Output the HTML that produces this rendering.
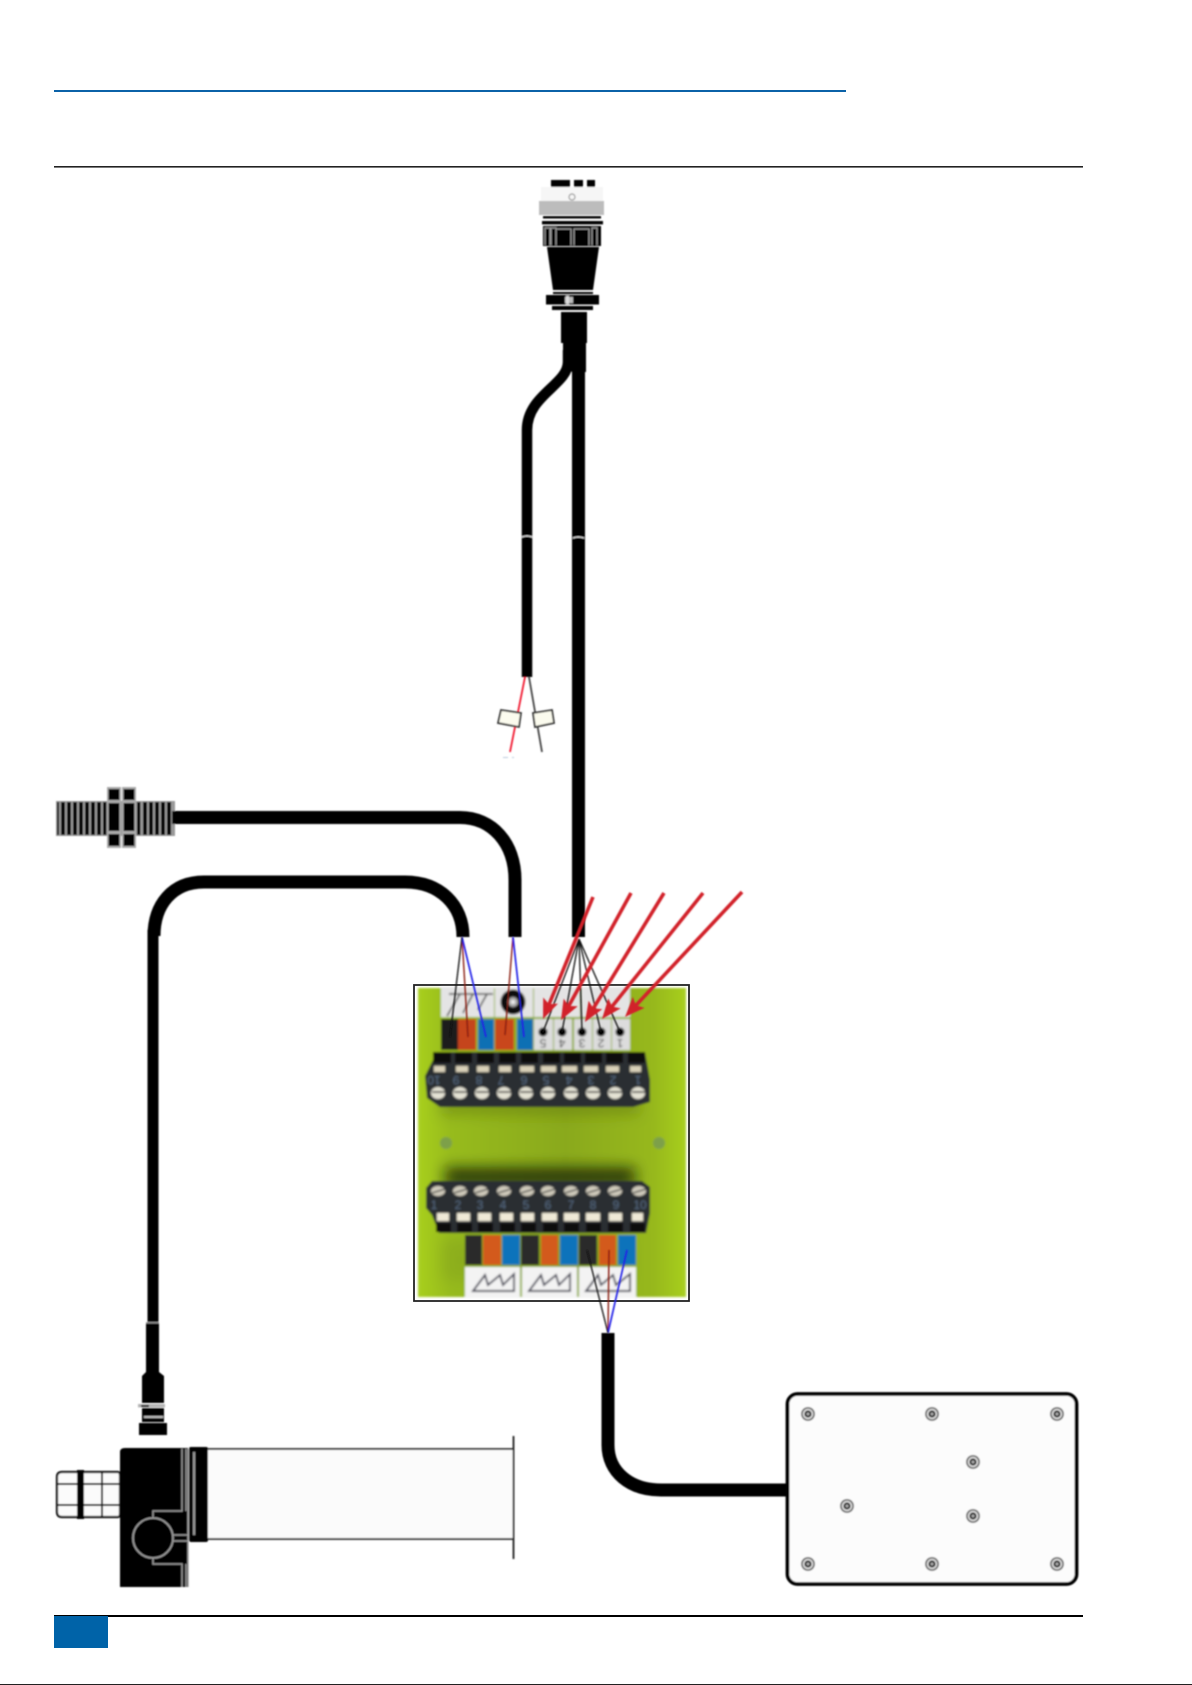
<!DOCTYPE html>
<html><head><meta charset="utf-8"><style>
html,body{margin:0;padding:0;background:#fff;width:1192px;height:1685px;overflow:hidden}
svg{display:block}
</style></head><body>
<svg xmlns="http://www.w3.org/2000/svg" width="1192" height="1685" viewBox="0 0 1192 1685">
<defs>
<filter id="b1" x="-5%" y="-5%" width="110%" height="110%"><feGaussianBlur stdDeviation="0.7"/></filter>
<filter id="b2" x="-5%" y="-5%" width="110%" height="110%"><feGaussianBlur stdDeviation="1.1"/></filter>
<filter id="b8" x="-30%" y="-100%" width="160%" height="300%"><feGaussianBlur stdDeviation="7"/></filter>
<linearGradient id="gr" x1="0" x2="1" y1="0" y2="0"><stop offset="0" stop-color="#a8cf20"/><stop offset=".12" stop-color="#97bb1c"/><stop offset=".55" stop-color="#8aa91b"/><stop offset=".88" stop-color="#97b81c"/><stop offset="1" stop-color="#a8cf20"/></linearGradient>
<marker id="ah" markerUnits="userSpaceOnUse" markerWidth="22" markerHeight="18" refX="14" refY="8" orient="auto"><path d="M0 0L20 8L0 16L4 8Z" fill="#d2232a"/></marker>
<g id="sc"><circle r="7" fill="#777"/><circle r="5.2" fill="#ddd"/><circle r="3.6" fill="#333"/><circle r="1.500" fill="#aaa"/></g>
</defs>

<rect x="54" y="90" width="792" height="2" fill="#0b62a8"/>
<rect x="54" y="166" width="1029" height="1.6" fill="#222"/>
<rect x="54" y="1615" width="1029" height="2" fill="#000"/>
<rect x="54" y="1616" width="54" height="32" fill="#0063a8"/>
<rect x="0" y="1684" width="1192" height="1" fill="#222"/>

<g filter="url(#b1)">
<!-- top connector -->
<g fill="#000">
<rect x="551" y="180" width="19" height="7"/><rect x="574" y="180" width="9" height="7"/><rect x="587" y="180" width="8" height="7"/>
</g>
<rect x="541" y="187" width="62" height="15" fill="#f6f6f6"/>
<rect x="539" y="201" width="65" height="14" fill="#bcbcbc"/>
<circle cx="572" cy="197" r="3" fill="none" stroke="#aaa" stroke-width="1.4"/>
<rect x="543" y="216" width="58" height="2.5" fill="#000"/>
<rect x="542" y="221" width="61" height="3.4" fill="#000"/>
<rect x="543" y="226" width="58" height="20" fill="#000"/>
<path d="M545 245V228h5v17M551 245V228h5v17M556 245V229h15v16M574 245V229h15v16M592 245V228h5v17" fill="none" stroke="#999" stroke-width="1.300"/>
<path d="M547 247H599L593 290H553Z" fill="#000"/>
<rect x="553" y="292" width="40" height="2" fill="#000"/>
<rect x="546" y="295" width="53" height="9.500" fill="#000"/>
<rect x="565" y="297" width="8" height="6" fill="#bbb"/><rect x="566" y="296" width="3" height="8" fill="#ddd"/>
<rect x="552" y="306" width="41" height="4" fill="#000"/>
<rect x="561" y="312" width="26" height="31" fill="#000"/>
<path d="M563 343H586V372L572 372L563 362Z" fill="#000"/>
<!-- top cable branches -->
<path d="M578.500 350V937" stroke="#000" stroke-width="13" fill="none"/>
<path d="M568 350V362C568 385 527 395 527 430V677" stroke="#000" stroke-width="10.500" fill="none"/>
<path d="M522 537q5 -2 10 0" fill="none" stroke="#fff" stroke-width="1"/>
<path d="M573 538q5 -2 11 0" fill="none" stroke="#fff" stroke-width="1"/>
<!-- pigtails -->
<path d="M525 677L510 752" stroke="#f0192f" stroke-width="1.800"/>
<path d="M529 677L542 752" stroke="#444" stroke-width="1.800"/>
<path d="M501 710L521 713L519 727L498 723Z M533 713L552 710L554 723L535 727Z" fill="#fbfbee" stroke="#333" stroke-width="1.800"/>
<rect x="503" y="757" width="5" height="1" fill="#bcd"/><rect x="512" y="757" width="2" height="1" fill="#bcd"/>
<!-- sensor -->
<rect x="56" y="801" width="119" height="35" fill="#999"/>
<g fill="#000">
<rect x="57" y="802" width="2" height="33"/><rect x="61" y="802" width="4" height="33"/><rect x="67" y="802" width="4" height="33"/><rect x="73" y="802" width="4" height="33"/><rect x="79" y="802" width="4" height="33"/><rect x="85" y="802" width="4" height="33"/><rect x="91" y="802" width="4" height="33"/><rect x="97" y="802" width="4" height="33"/><rect x="103" y="802" width="3.500" height="33"/>
<rect x="137" y="802" width="3.500" height="33"/><rect x="143" y="802" width="4" height="33"/><rect x="149" y="802" width="4" height="33"/><rect x="155" y="802" width="4" height="33"/><rect x="161" y="802" width="4" height="33"/><rect x="167" y="802" width="4" height="33"/>
</g>
<rect x="107" y="787" width="14" height="61" fill="#aaa"/><rect x="122" y="787" width="14" height="61" fill="#aaa"/>
<g fill="#000"><rect x="108.500" y="789" width="11" height="11"/><rect x="108.500" y="803" width="11" height="28"/><rect x="108.500" y="834" width="11" height="12"/><rect x="123.500" y="789" width="11" height="11"/><rect x="123.500" y="803" width="11" height="28"/><rect x="123.500" y="834" width="11" height="12"/></g>
<path d="M172 817.500H460C492 817.500 515 843 515 880V937" stroke="#000" stroke-width="13" fill="none"/>
<!-- long cable to actuator -->
<path d="M463 937C463 905 440 882 405 882H204C172 882 154 905 154 936" stroke="#000" stroke-width="13" fill="none"/>
<path d="M153 930V1325" stroke="#000" stroke-width="11" fill="none"/>
<!-- small connector -->
<path d="M146 1323H159V1372L164 1376V1403H142V1376L146 1372Z" fill="#000"/>
<rect x="146" y="1322" width="13" height="1.400" fill="#999"/>
<rect x="138" y="1404" width="27" height="3.400" fill="#b5b5b5"/><rect x="141" y="1405" width="8" height="2" fill="#000"/>
<rect x="142" y="1408" width="22" height="14" fill="#000"/>
<rect x="144" y="1416" width="19" height="2" fill="#bbb"/>
<rect x="139" y="1423" width="28" height="12" fill="#000"/>
<!-- actuator -->
<path d="M120 1452Q120 1448 125 1448H188V1587H120Z" fill="#000"/>
<rect x="189" y="1447" width="19" height="95" fill="#000" rx="2"/>
<rect x="193" y="1452" width="2.200" height="83" fill="#999"/>
<path d="M182 1449V1511H153V1519M186 1449V1511M188 1449V1587M182 1587V1564H153V1557M186 1587V1564" fill="none" stroke="#999" stroke-width="1.500"/>
<circle cx="153" cy="1538" r="20" fill="#000" stroke="#999" stroke-width="1.800"/>
<path d="M173 1535H188M173 1541H188" stroke="#999" stroke-width="1.500"/>
<rect x="208" y="1449" width="305" height="90" fill="#fbfbfb"/>
<path d="M208 1449H513M208 1539H513" stroke="#222" stroke-width="1.800"/>
<path d="M513.500 1436V1559" stroke="#222" stroke-width="1.800"/>
<!-- nut -->
<path d="M62 1472H118Q120 1472 120 1476V1513Q120 1517 118 1517H62Q57 1517 57 1512V1477Q57 1472 62 1472Z" fill="#fbfbfb" stroke="#111" stroke-width="2.200"/>
<path d="M58 1484H120M58 1505H120M102 1472V1517" stroke="#111" stroke-width="2"/>
<rect x="77" y="1470" width="7" height="49" fill="#000"/>
<!-- lower cable and box -->
<path d="M608 1333V1445C608 1472 630 1490 661 1490H790" stroke="#000" stroke-width="13" fill="none"/>
<rect x="787.500" y="1394" width="289" height="190" rx="10" fill="#fcfcfc" stroke="#000" stroke-width="3.800"/>
<use href="#sc" x="808" y="1414"/><use href="#sc" x="932" y="1414"/><use href="#sc" x="1057" y="1414"/>
<use href="#sc" x="973" y="1462"/><use href="#sc" x="847" y="1506"/><use href="#sc" x="973" y="1516"/>
<use href="#sc" x="808" y="1564"/><use href="#sc" x="932" y="1564"/><use href="#sc" x="1057" y="1564"/>
</g>

<!-- board -->
<rect x="414" y="985" width="275" height="316" fill="#fff" stroke="#222" stroke-width="1.800"/>
<g filter="url(#b2)">
<rect x="418" y="988" width="268" height="309" fill="url(#gr)"/>
<rect x="445" y="1168" width="190" height="18" fill="#0e1402" opacity=".8" filter="url(#b8)"/>
<rect x="440" y="1100" width="200" height="14" fill="#4d5e0e" opacity=".4" filter="url(#b8)"/>
<rect x="440" y="1240" width="190" height="40" fill="#4d5e0e" opacity=".12" filter="url(#b8)"/>
<circle cx="446" cy="1143" r="6" fill="#7da04a"/><circle cx="659" cy="1143" r="6" fill="#7da04a"/>

<!-- top panels -->
<rect x="441" y="987" width="53" height="30" fill="#e4e4e4"/>
<rect x="495" y="987" width="38" height="30" fill="#e4e4e4"/>
<rect x="534" y="987" width="46" height="30" fill="#e4e4e4"/>
<rect x="581" y="987" width="49" height="30" fill="#e4e4e4"/>
<path d="M449 994H493M447 1016L460 994M463 1013L473 994M478 1010L487 994" stroke="#444" stroke-width="1.600" fill="none"/>
<circle cx="513" cy="1002" r="12.500" fill="#111"/><circle cx="513" cy="1002" r="5" fill="#aaa"/><circle cx="513" cy="1002" r="2" fill="#eee"/>
<!-- top colours -->
<rect x="441" y="1019" width="17" height="31" fill="#1d1d1d"/>
<rect x="458" y="1019" width="18" height="31" fill="#c5441b"/>
<rect x="478" y="1019" width="16" height="31" fill="#0c6fb4"/>
<rect x="495" y="1019" width="19" height="31" fill="#c9471a"/>
<rect x="517" y="1019" width="16" height="31" fill="#0c6fb4"/>
<rect x="534" y="1019" width="19" height="31" fill="#dcdcdc"/>
<rect x="554" y="1019" width="18" height="31" fill="#dcdcdc"/>
<rect x="574" y="1019" width="18" height="31" fill="#dcdcdc"/>
<rect x="593" y="1019" width="18" height="31" fill="#dcdcdc"/>
<rect x="612" y="1019" width="18" height="31" fill="#dcdcdc"/>
<g fill="#000"><circle cx="543" cy="1032" r="4.500"/><circle cx="562" cy="1032" r="4.500"/><circle cx="582" cy="1032" r="4.500"/><circle cx="601" cy="1032" r="4.500"/><circle cx="620" cy="1032" r="4.500"/></g>
<g font-family="'Liberation Sans',sans-serif" font-size="12" fill="#333" text-anchor="middle">
<text transform="translate(543,1039) rotate(180)">5</text><text transform="translate(562,1039) rotate(180)">4</text><text transform="translate(582,1039) rotate(180)">3</text><text transform="translate(601,1039) rotate(180)">2</text><text transform="translate(620,1039) rotate(180)">1</text>
</g>

<!-- top block -->
<path d="M437 1052H645L650 1080V1102L633 1107H440L427 1098L425 1076Z" fill="#2a2d31"/>
<g fill="#0c0c0c"><rect x="433" y="1052" width="18" height="11"/><rect x="455" y="1052" width="17" height="11"/><rect x="477" y="1052" width="17" height="11"/><rect x="499" y="1052" width="17" height="11"/><rect x="521" y="1052" width="17" height="11"/><rect x="543" y="1052" width="17" height="11"/><rect x="564" y="1052" width="17" height="11"/><rect x="585" y="1052" width="17" height="11"/><rect x="606" y="1052" width="17" height="11"/><rect x="628" y="1052" width="17" height="11"/></g>
<g fill="#d8d0b8"><rect x="434" y="1066" width="11" height="6"/><rect x="456" y="1066" width="12" height="6"/><rect x="477" y="1066" width="12" height="6"/><rect x="499" y="1066" width="12" height="6"/><rect x="520" y="1066" width="14" height="6"/><rect x="541" y="1066" width="15" height="6"/><rect x="562" y="1066" width="15" height="6"/><rect x="584" y="1066" width="14" height="6"/><rect x="606" y="1066" width="13" height="6"/><rect x="630" y="1066" width="11" height="6"/></g>
<g font-family="'Liberation Sans',sans-serif" font-size="12" fill="#566a82" text-anchor="middle">
<text transform="translate(434,1076) rotate(180)">10</text><text transform="translate(456,1076) rotate(180)">9</text><text transform="translate(479,1076) rotate(180)">8</text><text transform="translate(501,1076) rotate(180)">7</text><text transform="translate(524,1076) rotate(180)">6</text><text transform="translate(546,1076) rotate(180)">5</text><text transform="translate(569,1076) rotate(180)">4</text><text transform="translate(591,1076) rotate(180)">3</text><text transform="translate(613,1076) rotate(180)">2</text><text transform="translate(638,1076) rotate(180)">1</text>
</g>
<g fill="#e4e2d4"><ellipse cx="438" cy="1093" rx="7" ry="6"/><ellipse cx="460" cy="1093" rx="7" ry="6"/><ellipse cx="482" cy="1093" rx="7" ry="6"/><ellipse cx="504" cy="1093" rx="7" ry="6"/><ellipse cx="526" cy="1093" rx="7" ry="6"/><ellipse cx="548" cy="1093" rx="7" ry="6"/><ellipse cx="571" cy="1093" rx="7" ry="6"/><ellipse cx="593" cy="1093" rx="7" ry="6"/><ellipse cx="615" cy="1093" rx="7" ry="6"/><ellipse cx="638" cy="1093" rx="7" ry="6"/></g>
<path d="M432 1092H445M454 1092H467M476 1092H489M498 1092H511M520 1092H533M542 1092H555M565 1092H578M587 1092H600M609 1092H622M632 1092H645" stroke="#333" stroke-width="1.400"/>

<!-- bottom block -->
<path d="M432 1181H642L650 1187V1213L646 1233H439L432 1215L426 1208V1188Z" fill="#2a2d31"/>
<g fill="#cfcabb"><ellipse cx="438" cy="1191" rx="7" ry="5"/><ellipse cx="460" cy="1191" rx="7" ry="5"/><ellipse cx="481" cy="1191" rx="7" ry="5"/><ellipse cx="504" cy="1191" rx="7" ry="5"/><ellipse cx="527" cy="1191" rx="7" ry="5"/><ellipse cx="548" cy="1191" rx="7" ry="5"/><ellipse cx="571" cy="1191" rx="7" ry="5"/><ellipse cx="593" cy="1191" rx="7" ry="5"/><ellipse cx="615" cy="1191" rx="7" ry="5"/><ellipse cx="639" cy="1191" rx="7" ry="5"/></g>
<path d="M432 1193L445 1189M454 1193L467 1189M475 1193L488 1189M498 1193L511 1189M521 1193L534 1189M542 1193L555 1189M565 1193L578 1189M587 1193L600 1189M609 1193L622 1189M633 1193L646 1189" stroke="#333" stroke-width="1.300"/>
<g font-family="'Liberation Sans',sans-serif" font-size="12" fill="#566a82" text-anchor="middle">
<text x="434" y="1209">1</text><text x="458" y="1209">2</text><text x="480" y="1209">3</text><text x="503" y="1209">4</text><text x="526" y="1209">5</text><text x="548" y="1209">6</text><text x="571" y="1209">7</text><text x="593" y="1209">8</text><text x="616" y="1209">9</text><text x="640" y="1209">10</text>
</g>
<g fill="#efe9d6"><rect x="437" y="1213" width="12" height="8"/><rect x="457" y="1213" width="13" height="8"/><rect x="478" y="1213" width="13" height="8"/><rect x="500" y="1213" width="13" height="8"/><rect x="521" y="1213" width="13" height="8"/><rect x="542" y="1213" width="15" height="8"/><rect x="564" y="1213" width="15" height="8"/><rect x="586" y="1213" width="14" height="8"/><rect x="609" y="1213" width="13" height="8"/><rect x="632" y="1213" width="11" height="8"/></g>
<g fill="#0c0c0c"><rect x="436" y="1223" width="15" height="9"/><rect x="457" y="1223" width="15" height="9"/><rect x="478" y="1223" width="15" height="9"/><rect x="500" y="1223" width="15" height="9"/><rect x="521" y="1223" width="15" height="9"/><rect x="543" y="1223" width="15" height="9"/><rect x="564" y="1223" width="15" height="9"/><rect x="586" y="1223" width="15" height="9"/><rect x="608" y="1223" width="15" height="9"/><rect x="630" y="1223" width="15" height="9"/></g>

<!-- bottom colours -->
<rect x="465" y="1235" width="17" height="30" fill="#2b2b2b"/><rect x="483" y="1235" width="18" height="30" fill="#d35a1c"/><rect x="502" y="1235" width="18" height="30" fill="#0e73bb"/>
<rect x="521" y="1235" width="18" height="30" fill="#2b2b2b"/><rect x="541" y="1235" width="17" height="30" fill="#d35a1c"/><rect x="560" y="1235" width="18" height="30" fill="#0e73bb"/>
<rect x="579" y="1235" width="18" height="30" fill="#2b2b2b"/><rect x="599" y="1235" width="17" height="30" fill="#d35a1c"/><rect x="618" y="1235" width="18" height="30" fill="#0e73bb"/>
<rect x="465" y="1267" width="55" height="31" fill="#f3f3f3"/><rect x="522" y="1267" width="55" height="31" fill="#f3f3f3"/><rect x="579" y="1267" width="57" height="31" fill="#f3f3f3"/>
<path d="M473 1291L485 1275L488 1285L500 1275L503 1285L514 1274V1291Z M529 1291L541 1275L544 1285L556 1275L559 1285L570 1274V1291Z M586 1291L598 1275L601 1285L613 1275L616 1285L630 1274V1291Z" fill="none" stroke="#445" stroke-width="1.900"/>
</g>

<!-- wires -->
<g filter="url(#b1)" fill="none">
<g stroke="#8a1a10" stroke-width="1.400"><path d="M462 937L468 1037"/><path d="M513 937L505 1035"/><path d="M608 1333L609 1250"/></g>
<g stroke="#2020e8" stroke-width="1.700"><path d="M462 937L486 1037"/><path d="M513 937L524 1037"/><path d="M608 1333L627 1250"/></g>
<g stroke="#111" stroke-width="1.300"><path d="M462 937L450 1037"/><path d="M579 939L543 1032"/><path d="M579 939L562 1032"/><path d="M579 939L582 1032"/><path d="M579 939L601 1032"/><path d="M579 939L620 1032"/><path d="M608 1333L587 1250"/></g>
<g stroke="#d2232a" stroke-width="3.600">
<line x1="593" y1="897" x2="545.300" y2="1013.500" marker-end="url(#ah)"/>
<line x1="631" y1="893" x2="563.900" y2="1014.700" marker-end="url(#ah)"/>
<line x1="664" y1="893" x2="588.100" y2="1016.900" marker-end="url(#ah)"/>
<line x1="703" y1="893" x2="605.800" y2="1014.300" marker-end="url(#ah)"/>
<line x1="742" y1="892" x2="629.100" y2="1012.600" marker-end="url(#ah)"/>
</g>
</g>
</svg>
</body></html>
